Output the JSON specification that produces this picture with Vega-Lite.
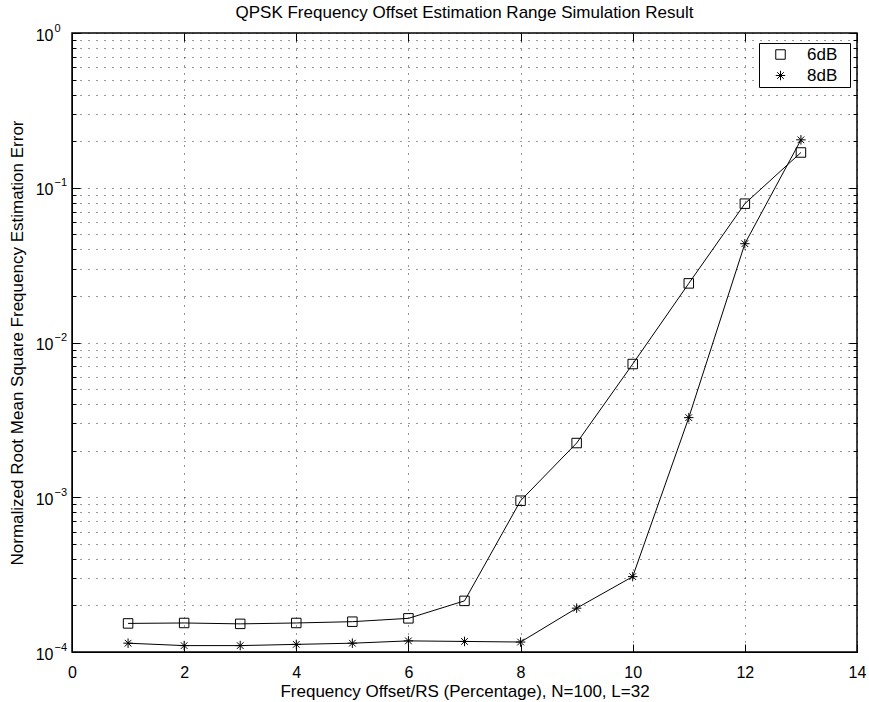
{
  "$schema": "https://vega.github.io/schema/vega-lite/v6.json",
  "width": 785,
  "height": 619,
  "autosize": {"type": "none"},
  "padding": {"left": 72, "top": 33, "right": 12, "bottom": 50},
  "background": "white",
  "title": {
    "text": "QPSK Frequency Offset Estimation Range Simulation Result",
    "font": "Liberation Sans",
    "fontSize": 17,
    "fontWeight": "normal",
    "color": "black",
    "anchor": "middle",
    "offset": 0
  },
  "config": {
    "view": {"stroke": "black", "strokeWidth": 1.5},
    "font": "Liberation Sans",
    "axis": {
      "domainColor": "black",
      "tickColor": "black",
      "labelColor": "black",
      "titleColor": "black",
      "labelFont": "Liberation Sans",
      "titleFont": "Liberation Sans",
      "labelFontSize": 16,
      "titleFontSize": 17,
      "titleFontWeight": "normal",
      "gridColor": "black",
      "gridOpacity": 0.8,
      "gridDash": [1, 7],
      "gridWidth": 1
    }
  },
  "data": {
    "values": [
      {"offset": 1, "nrmse": 0.000153, "snr": "6dB"},
      {"offset": 2, "nrmse": 0.000154, "snr": "6dB"},
      {"offset": 3, "nrmse": 0.000152, "snr": "6dB"},
      {"offset": 4, "nrmse": 0.000154, "snr": "6dB"},
      {"offset": 5, "nrmse": 0.000157, "snr": "6dB"},
      {"offset": 6, "nrmse": 0.000165, "snr": "6dB"},
      {"offset": 7, "nrmse": 0.000214, "snr": "6dB"},
      {"offset": 8, "nrmse": 0.00095, "snr": "6dB"},
      {"offset": 9, "nrmse": 0.00224, "snr": "6dB"},
      {"offset": 10, "nrmse": 0.00726, "snr": "6dB"},
      {"offset": 11, "nrmse": 0.0241, "snr": "6dB"},
      {"offset": 12, "nrmse": 0.0789, "snr": "6dB"},
      {"offset": 13, "nrmse": 0.169, "snr": "6dB"},
      {"offset": 1, "nrmse": 0.000114, "snr": "8dB"},
      {"offset": 2, "nrmse": 0.00011, "snr": "8dB"},
      {"offset": 3, "nrmse": 0.00011, "snr": "8dB"},
      {"offset": 4, "nrmse": 0.000112, "snr": "8dB"},
      {"offset": 5, "nrmse": 0.000114, "snr": "8dB"},
      {"offset": 6, "nrmse": 0.000118, "snr": "8dB"},
      {"offset": 7, "nrmse": 0.000117, "snr": "8dB"},
      {"offset": 8, "nrmse": 0.000116, "snr": "8dB"},
      {"offset": 9, "nrmse": 0.000192, "snr": "8dB"},
      {"offset": 10, "nrmse": 0.000307, "snr": "8dB"},
      {"offset": 11, "nrmse": 0.00327, "snr": "8dB"},
      {"offset": 12, "nrmse": 0.0435, "snr": "8dB"},
      {"offset": 13, "nrmse": 0.204, "snr": "8dB"}
    ]
  },
  "layer": [
    {
      "mark": {"type": "line", "color": "black", "strokeWidth": 1},
      "encoding": {
        "x": {
          "field": "offset",
          "type": "quantitative",
          "scale": {"domain": [0, 14], "nice": false},
          "axis": {
            "orient": "bottom",
            "values": [0, 2, 4, 6, 8, 10, 12, 14],
            "grid": true,
            "tickSize": -8,
            "labelPadding": 20,
            "labelFlush": false,
            "title": "Frequency Offset/RS (Percentage), N=100, L=32",
            "titlePadding": 3
          }
        },
        "y": {
          "field": "nrmse",
          "type": "quantitative",
          "scale": {"type": "log", "domain": [0.0001, 1], "nice": false},
          "axis": {
            "orient": "left",
            "values": [0.0001, 0.0002, 0.0003, 0.0004, 0.0005, 0.0006, 0.0007, 0.0008, 0.0009,
                       0.001, 0.002, 0.003, 0.004, 0.005, 0.006, 0.007, 0.008, 0.009,
                       0.01, 0.02, 0.03, 0.04, 0.05, 0.06, 0.07, 0.08, 0.09,
                       0.1, 0.2, 0.3, 0.4, 0.5, 0.6, 0.7, 0.8, 0.9, 1],
            "grid": true,
            "tickSize": {"condition": {"test": "indexof([0.0001, 0.001, 0.01, 0.1, 1], datum.value) >= 0", "value": -8}, "value": -4},
            "labelExpr": "indexof([0.0001, 0.001, 0.01, 0.1, 1], datum.value) >= 0 ? '10' : ''",
            "labelPadding": 27,
            "labelOffset": 2,
            "labelFlush": false,
            "labelOverlap": false,
            "title": "Normalized Root Mean Square Frequency Estimation Error",
            "titlePadding": 9
          }
        },
        "detail": {"field": "snr"}
      }
    },
    {
      "mark": {"type": "point", "filled": false, "color": "black", "strokeWidth": 1, "opacity": 1},
      "encoding": {
        "x": {
          "field": "offset",
          "type": "quantitative",
          "axis": {
            "orient": "top",
            "values": [0, 2, 4, 6, 8, 10, 12, 14],
            "grid": false,
            "labels": false,
            "domain": false,
            "tickSize": -8,
            "title": null
          }
        },
        "y": {
          "field": "nrmse",
          "type": "quantitative",
          "axis": {
            "orient": "right",
            "values": [0.0001, 0.0002, 0.0003, 0.0004, 0.0005, 0.0006, 0.0007, 0.0008, 0.0009,
                       0.001, 0.002, 0.003, 0.004, 0.005, 0.006, 0.007, 0.008, 0.009,
                       0.01, 0.02, 0.03, 0.04, 0.05, 0.06, 0.07, 0.08, 0.09,
                       0.1, 0.2, 0.3, 0.4, 0.5, 0.6, 0.7, 0.8, 0.9, 1],
            "grid": false,
            "labels": false,
            "domain": false,
            "tickSize": {"condition": {"test": "indexof([0.0001, 0.001, 0.01, 0.1, 1], datum.value) >= 0", "value": -8}, "value": -4},
            "title": null
          }
        },
        "shape": {
          "field": "snr",
          "type": "nominal",
          "scale": {
            "domain": ["6dB", "8dB"],
            "range": ["square", "M0,-1L0,1M-1,0L1,0M-0.7,-0.7L0.7,0.7M-0.7,0.7L0.7,-0.7"]
          },
          "legend": {
            "orient": "none",
            "legendX": 687,
            "legendY": 10,
            "title": null,
            "strokeColor": "black",
            "fillColor": "white",
            "padding": 3,
            "symbolOffset": 10,
            "labelOffset": 18,
            "rowPadding": 3,
            "labelFont": "Liberation Sans",
            "labelFontSize": 17,
            "labelColor": "black",
            "labelExpr": "datum.label + '\u00a0\u00a0\u200b'",
            "symbolSize": 90,
            "symbolStrokeColor": "black",
            "symbolStrokeWidth": 1
          }
        },
        "size": {"value": 90}
      }
    },
    {
      "mark": {"type": "point", "opacity": 0},
      "encoding": {
        "x": {"field": "offset", "type": "quantitative", "axis": null},
        "y": {
          "field": "nrmse",
          "type": "quantitative",
          "axis": {
            "orient": "left",
            "values": [0.0001, 0.001, 0.01, 0.1, 1],
            "grid": false,
            "ticks": false,
            "domain": false,
            "labelExpr": "datum.value == 1 ? '0' : datum.value == 0.1 ? '−1' : datum.value == 0.01 ? '−2' : datum.value == 0.001 ? '−3' : '−4'",
            "labelAlign": "left",
            "labelBaseline": "middle",
            "labelFontSize": 11,
            "labelPadding": 18,
            "labelOffset": -5,
            "labelFlush": false,
            "labelOverlap": false,
            "title": null
          }
        }
      }
    }
  ],
  "resolve": {"axis": {"x": "independent", "y": "independent"}}
}
